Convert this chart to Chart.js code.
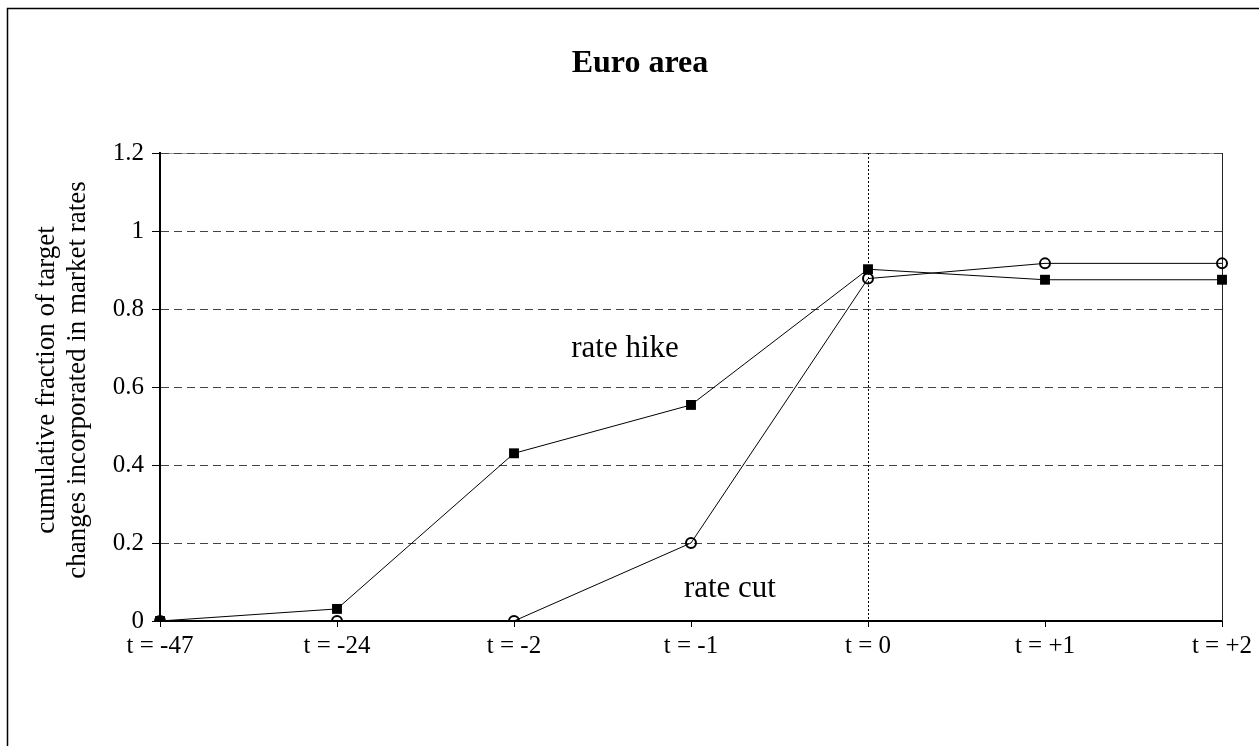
<!DOCTYPE html>
<html>
<head>
<meta charset="utf-8">
<script src="https://cdn.jsdelivr.net/npm/chart.js@4.4.1/dist/chart.umd.min.js"></script>
<style>
  html, body { margin: 0; padding: 0; background: #fff; }
  #wrap { position: relative; width: 1259px; height: 746px; }
  canvas { display: block; }
</style>
</head>
<body>
<div id="wrap"><canvas id="c" width="1259" height="746"></canvas></div>
<script>
const categories = ['t = -47', 't = -24', 't = -2', 't = -1', 't = 0', 't = +1', 't = +2'];
const rateHike = [0, 0.031, 0.43, 0.554, 0.902, 0.875, 0.875];
const rateCut = [0, 0, 0, 0.2, 0.878, 0.917, 0.917];
const yTicks = [0, 0.2, 0.4, 0.6, 0.8, 1, 1.2];
const yTickLabels = ['0', '0.2', '0.4', '0.6', '0.8', '1', '1.2'];
const chartTitle = 'Euro area';
const yTitleLines = ['cumulative fraction of target', 'changes incorporated in market rates'];
const seriesLabels = ['rate hike', 'rate cut'];
const labelPositions = [[2.627, 0.677], [3.22, 0.0615]];
const markerCategory = 't = 0';

const FONT = "'Liberation Serif', 'Times New Roman', serif";

const decor = {
  id: 'decor',
  beforeDraw(chart) {
    const ctx = chart.ctx;
    const a = chart.chartArea;
    ctx.save();
    ctx.fillStyle = '#fff';
    ctx.fillRect(0, 0, chart.width, chart.height);
    ctx.strokeStyle = '#000';
    ctx.lineWidth = 1.5;
    ctx.beginPath();
    ctx.moveTo(7.5, chart.height);
    ctx.lineTo(7.5, 8.5);
    ctx.lineTo(chart.width, 8.5);
    ctx.stroke();
    // light plot-area top edge under the dashed 1.2 gridline
    ctx.strokeStyle = '#9a9a9a';
    ctx.lineWidth = 1;
    ctx.beginPath();
    ctx.moveTo(a.left, Math.round(a.top) + 0.5);
    ctx.lineTo(a.right, Math.round(a.top) + 0.5);
    ctx.stroke();
    ctx.restore();
  },
  beforeDatasetsDraw(chart) {
    const ctx = chart.ctx;
    const a = chart.chartArea;
    const xs = chart.scales.x;
    ctx.save();
    ctx.strokeStyle = '#222';
    ctx.lineWidth = 1;
    ctx.beginPath();
    ctx.moveTo(Math.round(a.right) + 0.5, a.top);
    ctx.lineTo(Math.round(a.right) + 0.5, a.bottom);
    ctx.stroke();
    const vx = Math.round(xs.getPixelForValue(categories.indexOf(markerCategory))) + 0.5;
    ctx.setLineDash([2, 2]);
    ctx.strokeStyle = '#000';
    ctx.beginPath();
    ctx.moveTo(vx, a.top);
    ctx.lineTo(vx, a.bottom);
    ctx.stroke();
    ctx.restore();
  },
  afterDatasetsDraw(chart) {
    const ctx = chart.ctx;
    const xs = chart.scales.x, ys = chart.scales.y;
    ctx.save();
    ctx.fillStyle = '#000';
    ctx.textAlign = 'center';
    ctx.textBaseline = 'alphabetic';
    ctx.font = "bold 32px " + FONT;
    ctx.fillText(chartTitle, 640, 72);
    ctx.font = "27px " + FONT;
    ctx.save();
    ctx.translate(0, 380);
    ctx.rotate(-Math.PI / 2);
    ctx.textBaseline = 'middle';
    ctx.fillText(yTitleLines[0], 0, 47);
    ctx.fillText(yTitleLines[1], 0, 78);
    ctx.restore();
    ctx.font = "31px " + FONT;
    seriesLabels.forEach((t, i) => {
      const p = labelPositions[i];
      ctx.fillText(t, xs.getPixelForValue(p[0]), ys.getPixelForValue(p[1]));
    });
    ctx.restore();
  }
};

new Chart(document.getElementById('c'), {
  type: 'line',
  data: {
    labels: categories,
    datasets: [
      {
        label: seriesLabels[0],
        data: rateHike,
        borderColor: '#000',
        borderWidth: 1,
        pointStyle: 'rect',
        pointRadius: 7,
        pointBackgroundColor: '#000',
        pointBorderColor: '#000',
        pointBorderWidth: 0,
        tension: 0
      },
      {
        label: seriesLabels[1],
        data: rateCut,
        borderColor: '#000',
        borderWidth: 1,
        pointStyle: 'circle',
        pointRadius: 5,
        pointBackgroundColor: 'rgba(0,0,0,0)',
        pointBorderColor: '#000',
        pointBorderWidth: 2,
        tension: 0
      }
    ]
  },
  options: {
    responsive: false,
    animation: false,
    devicePixelRatio: 1,
    layout: { padding: { left: 0, top: 153, right: 37, bottom: 0 } },
    plugins: {
      legend: { display: false },
      tooltip: { enabled: false },
      title: { display: false }
    },
    scales: {
      x: {
        type: 'category',
        offset: false,
        grid: { drawOnChartArea: false, drawTicks: true, tickLength: 6, color: '#000', lineWidth: 1 },
        border: { display: true, color: '#000', width: 2 },
        ticks: { color: '#000', font: { family: FONT, size: 25 }, padding: 4, maxRotation: 0, autoSkip: false },
        afterFit(s) { s.height = 746 - 621; }
      },
      y: {
        min: 0,
        max: 1.2,
        afterBuildTicks(s) { s.ticks = yTicks.map(v => ({ value: v })); },
        grid: { color: '#444', lineWidth: 1, drawTicks: true, tickLength: 8, tickColor: '#000', tickBorderDash: [] },
        border: { display: true, color: '#000', width: 2, dash: [8, 5] },
        ticks: {
          color: '#000', font: { family: FONT, size: 25 }, padding: 8,
          callback(v, i) { return yTickLabels[i]; }
        },
        afterFit(s) { s.width = 160; }
      }
    }
  },
  plugins: [decor]
});
</script>
</body>
</html>
